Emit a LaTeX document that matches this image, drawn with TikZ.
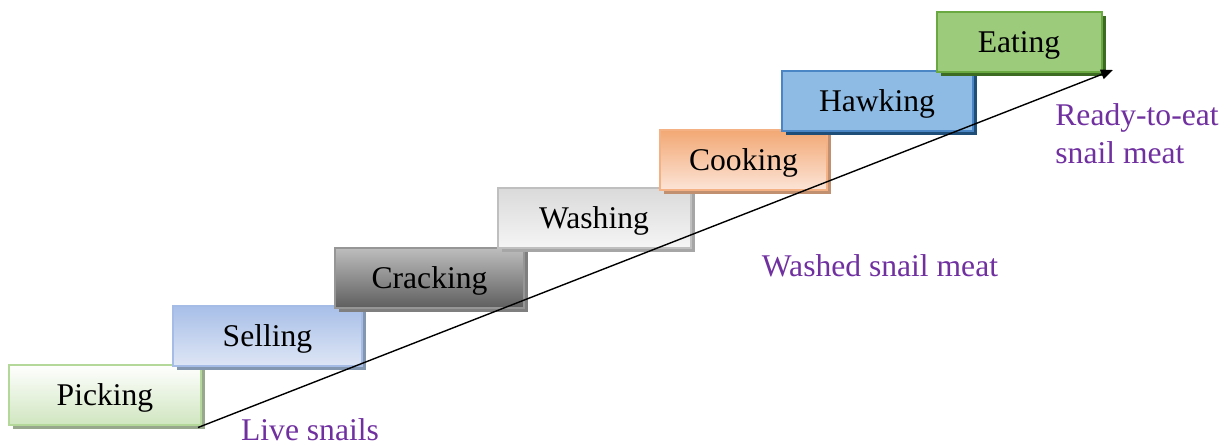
\documentclass[tikz,border=0pt]{standalone}
\usepackage{fontspec}
\setmainfont{Liberation Serif}
\usetikzlibrary{arrows.meta,shadows}
\definecolor{snailpurple}{HTML}{7030A0}
% box colours: border, top, bottom, shadow
\definecolor{pickline}{HTML}{B4D89A}\definecolor{picktop}{HTML}{FFFFFF}\definecolor{pickbot}{HTML}{D0E6C0}\definecolor{pickshade}{HTML}{98A88C}
\definecolor{sellline}{HTML}{A4BCE6}\definecolor{selltop}{HTML}{A8BFE8}\definecolor{sellbot}{HTML}{DEE6F5}\definecolor{sellshade}{HTML}{8497B0}
\definecolor{crackline}{HTML}{969696}\definecolor{cracktop}{HTML}{BEBEBE}\definecolor{crackbot}{HTML}{5F5F5F}\definecolor{crackshade}{HTML}{7F7F7F}
\definecolor{washline}{HTML}{BFBFBF}\definecolor{washtop}{HTML}{DADADA}\definecolor{washbot}{HTML}{F5F5F5}\definecolor{washshade}{HTML}{A6A6A6}
\definecolor{cookline}{HTML}{F4B183}\definecolor{cooktop}{HTML}{F2A873}\definecolor{cookbot}{HTML}{FCE4D6}\definecolor{cookshade}{HTML}{C09070}
\definecolor{hawkline}{HTML}{4A86C5}\definecolor{hawktop}{HTML}{8DBBE4}\definecolor{hawkmid}{HTML}{4F91D0}\definecolor{hawkshade}{HTML}{1F4E79}
\definecolor{eatline}{HTML}{6AA842}\definecolor{eattop}{HTML}{9CCB7C}\definecolor{eatmid}{HTML}{68A83E}\definecolor{eatshade}{HTML}{3D6B22}
\tikzset{
  stagebox/.style={draw, line width=1pt, minimum height=30pt, inner sep=0pt,
    text height=10.5pt, text depth=0pt, font=\fontsize{15.8}{19}\selectfont},
  stageshadow/.style={drop shadow={shadow xshift=2pt,shadow yshift=-2pt,fill=#1,opacity=1}},
  snaillabel/.style={text=snailpurple, font=\fontsize{15.8}{19}\selectfont, inner sep=0pt}
}
\begin{document}
\begin{tikzpicture}[x=0.5pt,y=-0.5pt]
  \useasboundingbox (0,0) rectangle (1231,445);
  % steps, from the bottom up
  \node[stagebox, minimum width=96pt, draw=pickline, top color=picktop, bottom color=pickbot, stageshadow=pickshade] (picking) at (105,394.5) {Picking};
  \node[stagebox, minimum width=94.5pt, draw=sellline, top color=selltop, bottom color=sellbot, stageshadow=sellshade] (selling) at (267.5,336) {Selling};
  \node[stagebox, minimum width=94.5pt, draw=crackline, top color=cracktop, bottom color=crackbot, stageshadow=crackshade] (cracking) at (429.5,277.5) {Cracking};
  \node[stagebox, minimum width=96.5pt, draw=washline, top color=washtop, bottom color=washbot, stageshadow=washshade] (washing) at (594,218) {Washing};
  \node[stagebox, minimum width=83.5pt, draw=cookline, top color=cooktop, bottom color=cookbot, stageshadow=cookshade] (cooking) at (743.5,159.5) {Cooking};
  \node[stagebox, minimum width=95.5pt, draw=hawkline, top color=hawktop, middle color=hawkmid, bottom color=hawktop, stageshadow=hawkshade] (hawking) at (877,101) {Hawking};
  \node[stagebox, minimum width=82.5pt, draw=eatline, top color=eattop, middle color=eatmid, bottom color=eattop, stageshadow=eatshade] (eating) at (1019,42) {Eating};
  % the rising line
  \coordinate (top) at (1113,70);
  \draw[line width=0.7pt, -{Triangle[length=6pt,width=5pt]}] ([shift={(-4,2)}]picking.south east) -- (top);
  % what the snails are at each stage
  \node[snaillabel] (live) at (310,430) {Live snails};
  \node[snaillabel] (washed) at (880,266) {Washed snail meat};
  \node[snaillabel, align=left, anchor=west] (ready) at (1055,134) {Ready-to-eat\\snail meat};
\end{tikzpicture}
\end{document}
